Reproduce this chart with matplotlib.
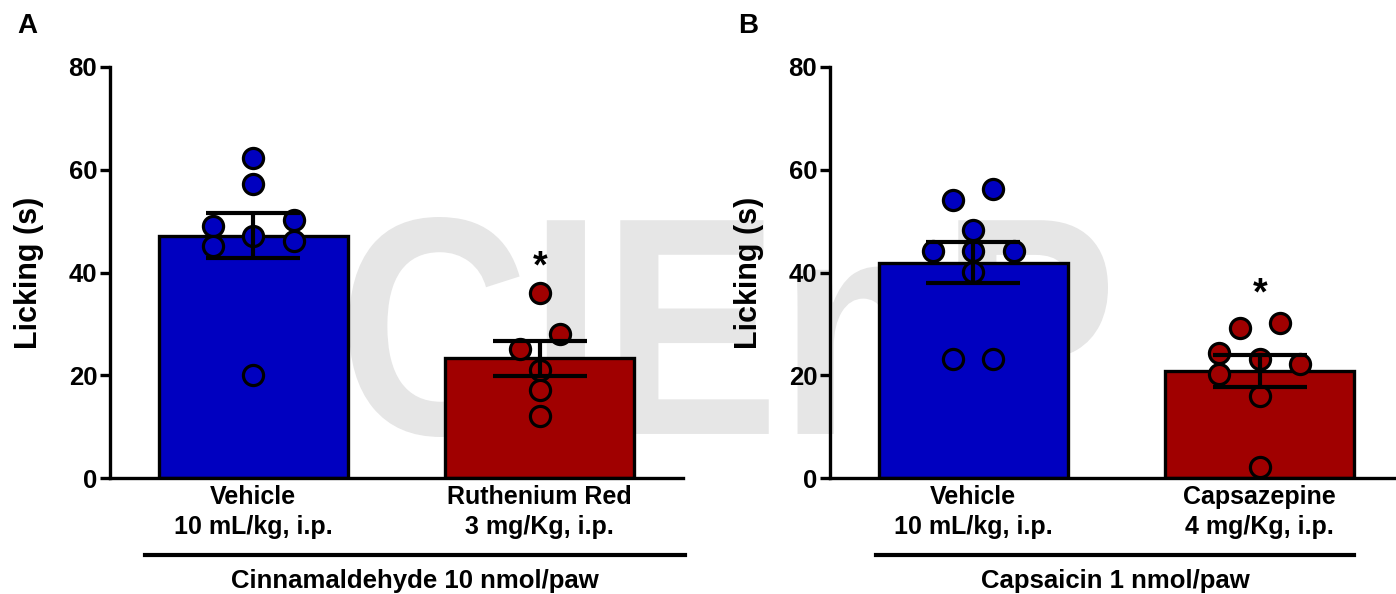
import numpy as np
import matplotlib
matplotlib.use('Agg')
from matplotlib import pyplot as plt
from matplotlib.textpath import TextPath
from matplotlib.font_manager import FontProperties
from matplotlib.patches import PathPatch
from matplotlib.transforms import Affine2D, blended_transform_factory

plt.rcParams['font.family'] = ['Liberation Sans', 'DejaVu Sans']
plt.rcParams['font.weight'] = 'bold'

# values (licking time, s)
a_vehicle = [62.3, 57.2, 49.1, 45.1, 47.1, 50.2, 46.2, 20.0]
a_ruthenium = [36.1, 28.1, 25.2, 21.1, 17.1, 12.1]
b_vehicle = [54.1, 56.2, 48.2, 44.2, 44.2, 44.2, 40.1, 23.1, 23.1]
b_capsazepine = [29.1, 30.1, 24.3, 20.2, 23.1, 22.1, 16.0, 2.1]

# beeswarm slots for the dots (layout only)
a_vehicle_slot = [0, 0, -2, -2, 0, 2, 2, 0]
a_ruthenium_slot = [0, 1, -1, 0, 0, 0]
b_vehicle_slot = [-1, 1, 0, -2, 0, 2, 0, -1, 1]
b_capsazepine_slot = [-1, 1, -2, -2, 0, 2, 0, 0]

a_labels = ['Vehicle\n10 mL/kg, i.p.', 'Ruthenium Red\n3 mg/Kg, i.p.']
b_labels = ['Vehicle\n10 mL/kg, i.p.', 'Capsazepine\n4 mg/Kg, i.p.']
a_group = 'Cinnamaldehyde 10 nmol/paw'
b_group = 'Capsaicin 1 nmol/paw'
star_y = [40.9, 35.7]

BLUE = '#0000c0'
RED = '#a00000'
W, H = 1396, 594

fig = plt.figure(figsize=(W / 100, H / 100), dpi=100)

# watermark behind everything
tp = TextPath((0, 0), 'CIEnP', size=100, prop=FontProperties(family='Liberation Sans', weight='bold'))
ext = tp.get_extents()
x0, x1, y0, y1 = 349 / W, 1108 / W, 1 - 437 / H, 1 - 217 / H
tr = Affine2D().translate(-ext.x0, -ext.y0).scale((x1 - x0) / ext.width, (y1 - y0) / ext.height).translate(x0, y0)
fig.add_artist(PathPatch(tr.transform_path(tp), transform=fig.transFigure, facecolor='#e6e6e6',
                         edgecolor='none', zorder=-5))


def panel(left, groups, slots, labels, group_text, line_x, sy, letter, letter_x):
    ax = fig.add_axes([left / W, 1 - 478 / H, 573 / W, 411 / H])
    ax.patch.set_visible(False)
    colors = [BLUE, RED]
    for i, vals in enumerate(groups):
        vals = np.array(vals)
        m = vals.mean()
        sem = vals.std(ddof=1) / np.sqrt(len(vals))
        ax.bar(i, m, width=0.658, color=colors[i], edgecolor='black', linewidth=2.4, zorder=2)
        ax.plot(i + np.array(slots[i]) * 0.0705, vals, 'o', ms=14.5, mfc=colors[i], mec='black',
                mew=2.3, zorder=3, clip_on=False)
        ax.errorbar(i, m, yerr=sem, fmt='none', ecolor='black', elinewidth=3, capsize=34,
                    capthick=3, zorder=4)
    ax.text(1, sy, '*', ha='center', va='center', fontsize=27, fontweight='bold')
    ax.set_xlim(-0.5, 1.5)
    ax.set_ylim(0, 80)
    ax.set_yticks([0, 20, 40, 60, 80])
    ax.set_xticks([0, 1])
    ax.set_xticklabels(labels, fontsize=18, fontweight='bold', linespacing=1.3)
    ax.tick_params(axis='x', length=0, pad=5)
    ax.tick_params(axis='y', length=7.2, width=2.4, pad=2, labelsize=18.5)
    for s in ['top', 'right']:
        ax.spines[s].set_visible(False)
    for s in ['left', 'bottom']:
        ax.spines[s].set_linewidth(2.4)
    ax.set_ylabel('Licking (s)', fontsize=22, fontweight='bold', labelpad=18)
    trans = blended_transform_factory(ax.transData, ax.transAxes)
    ax.plot(line_x, [-0.187, -0.187], color='black', lw=3, transform=trans, clip_on=False)
    ax.text(np.mean(line_x), -0.222, group_text, transform=trans, ha='center', va='top',
            fontsize=18.5, fontweight='bold')
    fig.text(letter_x / W, 1 - 26 / H, letter, fontsize=20, fontweight='bold', va='center')
    return ax


panel(110, [a_vehicle, a_ruthenium], [a_vehicle_slot, a_ruthenium_slot], a_labels, a_group,
      [-0.377, 1.508], star_y[0], 'A', 17)
panel(830, [b_vehicle, b_capsazepine], [b_vehicle_slot, b_capsazepine_slot], b_labels, b_group,
      [-0.338, 1.329], star_y[1], 'B', 738)

fig.savefig('out.png', dpi=100)
